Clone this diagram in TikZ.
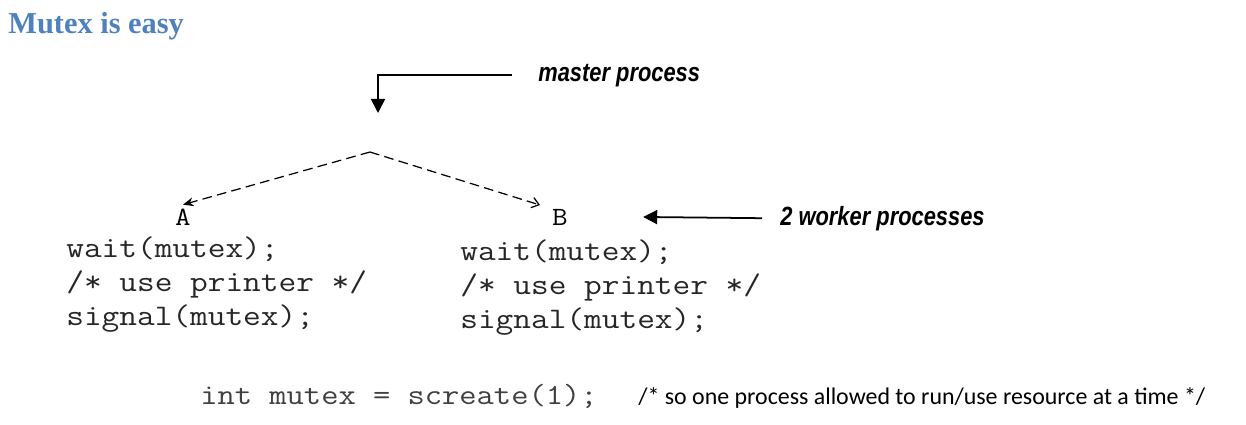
\documentclass[tikz,border=0pt]{standalone}
\usepackage{fontspec}
\usepackage{tikz}
\usetikzlibrary{arrows.meta,positioning,calc}
\setmainfont{Liberation Serif}
\newfontfamily\courfont[FakeStretch=1.15]{Latin Modern Mono}
\newfontfamily\notefont[FakeStretch=0.83]{Liberation Sans}
\newfontfamily\cmtfont{Carlito}
\definecolor{titleblue}{RGB}{79,129,189}

\begin{document}
\begin{tikzpicture}[x=0.02cm,y=-0.02cm,
    code/.style={anchor=base west,inner sep=0,font=\courfont\fontsize{17}{20}\selectfont,text=black!85},
    proc/.style={anchor=base,inner sep=0,font=\courfont\fontsize{15}{18}\selectfont},
    note/.style={anchor=base west,inner sep=0,font=\notefont\bfseries\itshape\fontsize{15}{18}\selectfont},
    solidarr/.style={line width=1pt,-{Triangle[length=8pt,width=8pt]}},
    dasharr/.style={line width=0.7pt,dash pattern=on 5.5pt off 3pt}]
    \useasboundingbox (0,0) rectangle (1246,424);

    \node [anchor=base west,inner sep=0,text=titleblue,font=\bfseries\fontsize{17.3}{20}\selectfont] (title) at (8,33) {Mutex is easy};

    % master and the two workers
    \node [note] (mp) at (538,81) {master process};
    \coordinate (mtip) at (378,113);
    \coordinate (fork) at (370,152);
    \node [proc] (A) at (183,225) {A};
    \node [proc] (B) at (560,225) {B};
    \node [note] (wp) at (780,225) {2 worker processes};

    \node [code] (a1) at (66,257) {wait(mutex);};
    \node [code] (a2) at (66,291) {/* use printer */};
    \node [code] (a3) at (66,325) {signal(mutex);};
    \node [code] (b1) at (460,260) {wait(mutex);};
    \node [code] (b2) at (460,294) {/* use printer */};
    \node [code] (b3) at (460,328) {signal(mutex);};

    \node [code,text=black!75,font=\courfont\fontsize{16.6}{20}\selectfont] (init) at (200,404) {int mutex = screate(1);};
    \node [anchor=base west,inner sep=0,font=\cmtfont\fontsize{13.6}{16}\selectfont] (cmt) at (638,404) {/* so one process allowed to run/use resource at a time */};

    \draw [solidarr] ([xshift=-0.52cm]mp.west) -| (mtip);
    \draw [solidarr] ([xshift=-0.36cm]wp.west) -- ([xshift=1.5cm]B.east);
    \draw [dasharr,-{Stealth[length=6pt,width=5pt]}] (fork) -- ([yshift=2pt]A.north);
    \draw [dasharr,-{Straight Barb[length=4pt,width=6pt]}] (fork) -- ([xshift=-0.4cm,yshift=2pt]B.north);
  \end{tikzpicture}
\end{document}
